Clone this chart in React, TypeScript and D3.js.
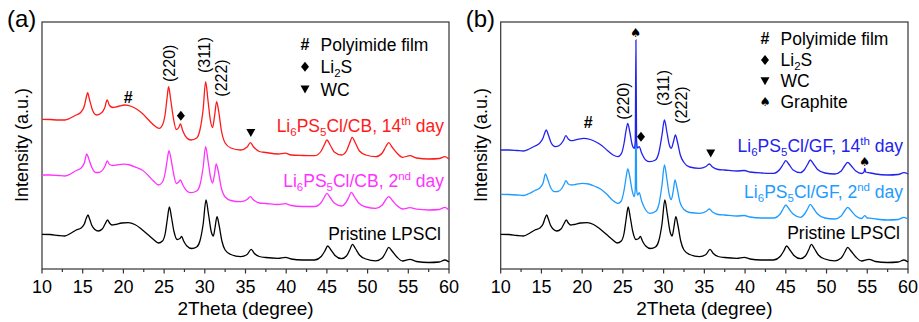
import React from "react";
import * as d3 from "d3";

// ---------- DATA (2Theta in degrees, intensity in arbitrary units, stacked) ----------
const xTicks = [10, 15, 20, 25, 30, 35, 40, 45, 50, 55, 60];
const xMinorTicks = [12.5, 17.5, 22.5, 27.5, 32.5, 37.5, 42.5, 47.5, 52.5, 57.5];

const pristine: [number, number][] = [
  [10,34.7],[11,34.5],[12,33.5],[12.8,33],[13.5,35.5],[14.2,39],[14.8,41],[15.2,45],[15.45,51],[15.65,54],[15.85,50],[16.1,44],[16.5,39.5],[16.9,38],[17.4,40],[17.75,45],[18.05,49],[18.3,46],[18.6,44],[19.0,44.5],[19.8,46],[20.6,46.3],[21.4,44.5],[22.2,40],[23.0,34.5],[23.7,29.5],[24.3,26],[24.8,28],[25.15,36],[25.4,50],[25.65,62],[25.9,52],[26.2,38],[26.6,29.5],[26.95,30.5],[27.15,32.7],[27.4,28],[27.8,23],[28.4,20.5],[29.0,22],[29.4,28],[29.8,45],[30.15,69],[30.45,55],[30.8,37],[31.05,33],[31.25,41],[31.5,52.3],[31.75,44],[32.1,28],[32.5,19],[33.2,14.5],[34.4,12.3],[35.2,14.5],[35.7,19.7],[36.1,15.5],[36.7,12.5],[37.5,11.5],[39.0,10.7],[39.9,11.7],[40.6,10],[42.0,9],[43.5,9],[44.3,12.5],[44.75,18],[45.1,23],[45.5,19],[46.0,13.5],[46.8,10.3],[47.4,13],[47.8,19],[48.15,24.7],[48.5,20.5],[49.0,14],[49.8,10],[51.0,8.2],[51.8,11],[52.25,17],[52.6,21.7],[53.0,18],[53.6,12],[54.3,8],[55.2,9.7],[56.0,7.5],[57.5,6.5],[58.8,7],[59.5,9],[60,7]
];

const cb2nd: [number, number][] = [
  [10,94],[11,94],[12,93.5],[12.8,93],[13.5,95],[14.2,98.5],[14.8,101],[15.2,106],[15.5,115],[15.75,110],[16.1,102],[16.6,96.5],[17.0,96.5],[17.5,99.5],[17.8,104],[18.0,108],[18.3,104.5],[18.7,103.5],[19.2,104],[20.0,104.8],[20.8,104],[21.6,101.5],[22.3,99],[23.0,94],[23.7,88],[24.3,84],[24.8,87],[25.15,97],[25.4,110],[25.6,118.3],[25.85,110],[26.15,96],[26.5,85.5],[26.8,87],[27.0,89],[27.3,84],[27.8,78],[28.3,76.3],[29.0,78],[29.4,84],[29.8,102],[30.1,122.3],[30.4,108],[30.7,92],[30.95,86],[31.2,95],[31.4,105],[31.65,98],[32.0,82],[32.5,72],[33.2,68.5],[34.4,67.3],[35.2,69.5],[35.6,72.3],[36.0,69],[36.7,66],[37.5,65.5],[39.0,64.5],[39.9,65.3],[40.6,63.5],[42.0,62.5],[43.5,62.5],[44.3,66.5],[44.7,72],[45.0,75.7],[45.4,71.5],[45.9,66],[46.8,63],[47.3,66],[47.7,72],[48.0,76.7],[48.4,72],[48.9,66],[49.8,62],[51.0,60.7],[51.8,64],[52.25,69.5],[52.6,72.3],[53.0,69],[53.6,63.5],[54.3,60],[55.2,61.3],[56.0,59.8],[57.5,59],[58.8,59.5],[59.5,61.7],[60,59]
];

const cb14th: [number, number][] = [
  [10,149.7],[11,149.5],[12,149],[12.8,149],[13.5,151],[14.2,154],[14.8,157],[15.2,163],[15.45,172],[15.6,176.3],[15.85,169],[16.2,159],[16.7,154],[17.2,155.5],[17.7,161],[18.0,169],[18.3,163.5],[18.7,161.5],[19.3,162.5],[20.2,164],[21.0,162.5],[21.7,159.5],[22.4,155],[23.1,149],[23.8,143.5],[24.4,140.7],[24.85,145],[25.15,156],[25.35,170],[25.55,182.3],[25.8,170],[26.1,153],[26.5,139.5],[26.8,141.5],[27.0,145],[27.3,138],[27.8,131],[28.3,129],[29.0,131],[29.4,139],[29.8,160],[30.1,187.3],[30.4,168],[30.7,148],[30.95,141.5],[31.2,153],[31.45,167.3],[31.7,158],[32.05,138],[32.5,126],[33.2,121],[34.4,119],[35.2,122],[35.6,126.3],[36.0,122],[36.7,117.5],[37.5,116.5],[39.0,115],[39.9,115.8],[40.6,114],[42.0,113.5],[43.5,113.3],[44.3,118],[44.7,124.5],[45.0,129],[45.4,124],[45.9,117],[46.8,114],[47.4,118],[47.8,126],[48.1,131.7],[48.5,126],[49.0,118],[49.8,114],[51.0,112.3],[51.8,116],[52.25,122.5],[52.6,126.3],[53.0,122],[53.6,116],[54.3,111.7],[55.2,113.3],[56.0,111],[57.5,110],[58.8,110.5],[59.5,112.3],[60,109.7]
];

const gf2nd: [number, number][] = [
  [10,74.7],[11,74.5],[12,74],[12.8,73.5],[13.5,75.5],[14.2,78.5],[14.8,81],[15.2,86],[15.5,95],[15.75,90],[16.1,82],[16.6,77.3],[17.0,77.5],[17.5,80.5],[17.8,85],[18.0,88.3],[18.3,85],[18.7,84],[19.2,84.5],[20.0,85.7],[20.8,85],[21.6,82.5],[22.3,79.7],[23.0,75],[23.7,69],[24.4,65.7],[24.8,68],[25.15,79],[25.4,92],[25.6,100],[25.85,92],[26.15,78],[26.4,72.3],[26.52,80],[26.6,170],[26.68,80],[26.8,74],[27.0,76.3],[27.3,68],[27.8,59],[28.3,55.7],[29.0,57.5],[29.4,64],[29.8,84],[30.1,104],[30.4,90],[30.7,74],[30.95,69.5],[31.2,79],[31.4,89],[31.65,81],[32.0,67],[32.5,59.5],[33.2,56.5],[34.4,55.7],[35.2,57.5],[35.6,60],[36.0,57],[36.7,54.5],[37.5,54],[39.0,53],[39.9,53.5],[40.6,52],[42.0,51],[43.5,51],[44.3,55],[44.7,60.5],[45.0,64],[45.4,60],[45.9,55],[46.8,51.7],[47.3,55],[47.7,60.5],[48.0,64.7],[48.4,60.5],[48.9,55],[49.8,51],[51.0,50],[51.8,53],[52.25,58.5],[52.6,61.7],[53.0,58.5],[53.6,53],[54.3,50.5],[54.7,53.3],[55.0,51],[55.5,50.7],[56.5,49.5],[57.5,49],[58.8,49.5],[59.5,51.7],[60,50]
];

const gf14th: [number, number][] = [
  [10,119],[11,119],[12,118.5],[12.8,118],[13.5,120],[14.2,123],[14.8,126],[15.2,131],[15.45,137],[15.6,139],[15.85,134],[16.2,126],[16.7,122.3],[17.2,123.5],[17.7,128.5],[18.0,133.3],[18.3,130],[18.7,128.3],[19.3,129.3],[20.2,130.7],[21.0,129.5],[21.7,127],[22.4,123.5],[23.1,118.5],[23.8,114],[24.4,112.3],[24.85,116],[25.15,126],[25.4,139],[25.6,145.7],[25.85,137],[26.15,124],[26.4,120.7],[26.52,128],[26.6,229],[26.68,128],[26.8,121],[27.0,122.3],[27.3,116],[27.8,109],[28.3,107.3],[29.0,109],[29.4,116],[29.8,134],[30.1,149],[30.4,137],[30.7,124],[30.95,120.7],[31.2,127],[31.45,134],[31.7,127],[32.05,114],[32.5,106.5],[33.2,102],[34.4,100.7],[35.2,102.5],[35.6,105],[36.0,102],[36.7,99.5],[37.5,99],[39.0,98],[39.9,98.5],[40.6,97],[42.0,96],[43.5,95.7],[44.3,100],[44.7,105],[45.0,108.3],[45.4,104.5],[45.9,99],[46.8,96.3],[47.3,99.5],[47.7,105],[48.0,109],[48.4,105],[48.9,99.5],[49.8,96],[51.0,95],[51.8,98],[52.25,103.5],[52.6,106.7],[53.0,103.5],[53.6,98],[54.3,95.5],[54.6,97],[54.7,100.7],[54.8,97],[55.2,96.3],[56.0,95],[57.5,94],[58.8,94.5],[59.5,96.3],[60,95]
];

// annotation markers: [symbol, 2Theta, intensity]
const marksA: [string, number, number][] = [["hash", 20.6, 172], ["diamond", 27.06, 153.3], ["tri", 35.65, 136.3]];
const marksB: [string, number, number][] = [["spade", 26.57, 236.7], ["hash", 20.75, 146.3], ["diamond", 27.22, 132.3], ["tri", 35.78, 115.7], ["spade", 54.68, 107.3]];
// Miller index labels: [label, 2Theta, intensity at label centre]
const hklA: [string, number, number][] = [["(220)", 25.6, 205.7], ["(311)", 29.9, 214], ["(222)", 32.06, 191]];
const hklB: [string, number, number][] = [["(220)", 25.05, 168], ["(311)", 29.96, 181], ["(222)", 32.2, 164]];

const FONT = "Arial, 'Liberation Sans', Helvetica, sans-serif";
const W = 919, H = 322;
const TOP = 22, BOTTOM = 269;

function Symbol({ kind, x, y }: { kind: string; x: number; y: number }) {
  if (kind === "hash")
    return <text x={x} y={y} dy="0.36em" textAnchor="middle" fontFamily={FONT} fontWeight="bold" fontSize={16}>#</text>;
  if (kind === "diamond") return <path transform={`translate(${x},${y})`} d="M0,-5L4,0L0,5L-4,0Z" fill="#000" />;
  if (kind === "tri") return <path transform={`translate(${x},${y})`} d="M-4.5,-3.8L4.5,-3.8L0,4.2Z" fill="#000" />;
  return <text x={x} y={y} dy="0.36em" textAnchor="middle" fontFamily="'DejaVu Sans', sans-serif" fontSize={12.5}>♠</text>;
}

function SeriesLabel({ x, y, color, tail, sup, end }: { x: number; y: number; color: string; tail: string; sup: string; end: string }) {
  return (
    <text x={x} y={y} textAnchor="end" fontFamily={FONT} fontSize={17.5} fill={color}>
      <tspan>Li</tspan>
      <tspan fontSize={11.5} dy={4}>6</tspan>
      <tspan dy={-4}>PS</tspan>
      <tspan fontSize={11.5} dy={4}>5</tspan>
      <tspan dy={-4}>{tail}</tspan>
      <tspan fontSize={11.5} dy={-7}>{sup}</tspan>
      <tspan dy={7}>{end}</tspan>
    </text>
  );
}

function Panel({ left, right, label, series, marks, hkl, legend, labels }: any) {
  const x = d3.scaleLinear().domain([10, 60]).range([left, right]);
  const y = d3.scaleLinear().domain([0, 247]).range([BOTTOM, TOP]);
  const line = d3.line<[number, number]>().x(d => x(d[0])).y(d => y(d[1])).curve(d3.curveMonotoneX);
  const legX = left + (legend.dx as number);
  return (
    <g>
      <rect x={left} y={TOP} width={right - left} height={BOTTOM - TOP} fill="none" stroke="#333" strokeWidth={1.2} />
      {xTicks.map(t => (
        <g key={t}>
          <line x1={x(t)} x2={x(t)} y1={BOTTOM} y2={BOTTOM + 4.5} stroke="#333" strokeWidth={1.2} />
          <text x={x(t)} y={BOTTOM + 24} textAnchor="middle" fontFamily={FONT} fontSize={18}>{t}</text>
        </g>
      ))}
      {xMinorTicks.map(t => (
        <line key={t} x1={x(t)} x2={x(t)} y1={BOTTOM} y2={BOTTOM + 3} stroke="#333" strokeWidth={1.2} />
      ))}
      <text x={(left + right) / 2} y={315} textAnchor="middle" fontFamily={FONT} fontSize={19}>2Theta (degree)</text>
      <text transform={`translate(${left - 20},145) rotate(-90)`} textAnchor="middle" dy="0.36em" fontFamily={FONT} fontSize={18}>Intensity (a.u.)</text>
      <text x={left - 35} y={27} fontFamily={FONT} fontSize={24}>{label}</text>
      {series.map((s: any, i: number) => (
        <path key={i} d={line(s.data) || ""} fill="none" stroke={s.color} strokeWidth={1.3} />
      ))}
      {marks.map((m: [string, number, number], i: number) => (
        <Symbol key={i} kind={m[0]} x={x(m[1])} y={y(m[2])} />
      ))}
      {hkl.map((h: [string, number, number], i: number) => (
        <text key={i} transform={`translate(${x(h[1])},${y(h[2])}) rotate(-90)`} textAnchor="middle" dy="0.36em" fontFamily={FONT} fontSize={16}>{h[0]}</text>
      ))}
      {legend.rows.map((r: any, i: number) => (
        <g key={i}>
          <Symbol kind={r.kind} x={legX} y={r.y} />
          <text x={legX + 15.5} y={r.y} dy="0.36em" fontFamily={FONT} fontSize={17.5}>
            {r.sub ? (<><tspan>Li</tspan><tspan fontSize={11.5} dy={4}>2</tspan><tspan dy={-4}>S</tspan></>) : r.text}
          </text>
        </g>
      ))}
      {labels.map((l: any, i: number) =>
        l.pristine ? (
          <text key={i} x={right - 8} y={l.y} textAnchor="end" fontFamily={FONT} fontSize={17.5} fill="#000">Pristine LPSCl</text>
        ) : (
          <SeriesLabel key={i} x={right - 5} y={l.y} color={l.color} tail={l.tail} sup={l.sup} end=" day" />
        )
      )}
    </g>
  );
}

export default function App() {
  const RED = "#ff1a1a", MAG = "#ff33ff", BLUE = "#2222ee", LBLUE = "#1e9bff";
  return (
    <svg width={W} height={H} style={{ position: "absolute", left: 0, top: 0, background: "#fff" }}>
      <rect width={W} height={H} fill="#fff" />
      <Panel
        left={42} right={449} label="(a)"
        series={[{ data: pristine, color: "#000" }, { data: cb2nd, color: MAG }, { data: cb14th, color: RED }]}
        marks={marksA} hkl={hklA}
        legend={{ dx: 263, rows: [{ kind: "hash", y: 44.3, text: "Polyimide film" }, { kind: "diamond", y: 66.7, sub: true }, { kind: "tri", y: 89.3, text: "WC" }] }}
        labels={[{ y: 131.7, color: RED, tail: "Cl/CB, 14", sup: "th" }, { y: 186.7, color: MAG, tail: "Cl/CB, 2", sup: "nd" }, { y: 240.3, pristine: true }]}
      />
      <Panel
        left={500.7} right={908} label="(b)"
        series={[{ data: pristine, color: "#000" }, { data: gf2nd, color: LBLUE }, { data: gf14th, color: BLUE }]}
        marks={marksB} hkl={hklB}
        legend={{ dx: 264.3, rows: [{ kind: "hash", y: 38.3, text: "Polyimide film" }, { kind: "diamond", y: 60, sub: true }, { kind: "tri", y: 81, text: "WC" }, { kind: "spade", y: 101.7, text: "Graphite" }] }}
        labels={[{ y: 151.7, color: BLUE, tail: "Cl/GF, 14", sup: "th" }, { y: 198.3, color: LBLUE, tail: "Cl/GF, 2", sup: "nd" }, { y: 239.3, pristine: true }]}
      />
    </svg>
  );
}
